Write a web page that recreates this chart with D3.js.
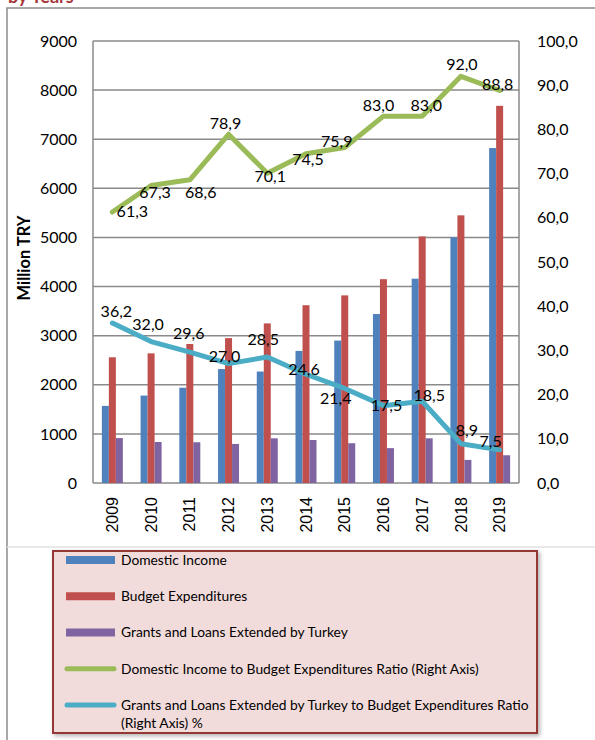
<!DOCTYPE html>
<html>
<head>
<meta charset="utf-8">
<script src="https://cdn.jsdelivr.net/npm/d3@7"></script>
<style>
  body { margin: 0; background: #fff; }
  svg { display: block; font-family: Lato, "Open Sans", sans-serif; }
</style>
</head>
<body>
<script>
'use strict';

// chart values
const years = ["2009", "2010", "2011", "2012", "2013", "2014", "2015", "2016", "2017", "2018", "2019"];
const domesticIncome = [1570, 1780, 1940, 2320, 2270, 2690, 2900, 3440, 4160, 5000, 6820];
const budgetExpenditures = [2560, 2640, 2830, 2950, 3250, 3620, 3820, 4150, 5020, 5450, 7680];
const grantsLoans = [915, 835, 830, 795, 910, 875, 810, 710, 910, 470, 565];
const incomeRatio = [61.3, 67.3, 68.6, 78.9, 70.1, 74.5, 75.9, 83.0, 83.0, 92.0, 88.8];
const grantsRatio = [36.2, 32.0, 29.6, 27.0, 28.5, 24.6, 21.4, 17.5, 18.5, 8.9, 7.5];
const leftTicks = [0, 1000, 2000, 3000, 4000, 5000, 6000, 7000, 8000, 9000];
const rightTicks = [0, 10, 20, 30, 40, 50, 60, 70, 80, 90, 100];
const legendLabels = [
  "Domestic Income",
  "Budget Expenditures",
  "Grants and Loans Extended by Turkey",
  "Domestic Income to Budget Expenditures Ratio (Right Axis)",
  "Grants and Loans Extended by Turkey to Budget Expenditures Ratio|(Right Axis) %"
];

// label nudges (dx, dy) to mimic hand-placed data labels
const incomeLabelShift = [[20, -1], [4, 7], [11, 12], [-3, -11], [3, 3], [2, 6], [-8, -6], [-5, -11], [4, -11], [1, -12], [-2, -6]];
const grantsLabelShift = [[4, -12], [-3, -17], [-1, -19], [-4, -7], [-4, -18], [-2, -5], [-9, 10], [3, 0], [7, -6], [6, -13], [-9, -9]];

const colors = {
  income: "#4F81BD",
  budget: "#C0504D",
  grants: "#8064A2",
  incomeRatio: "#9BBB59",
  grantsRatio: "#4BACC6"
};

let svg = "";
const plot = { left: 93, right: 519, top: 41, bottom: 483 };

window.onload = function() {
  svg = d3.select('body')
    .append('svg')
    .attr('width', 595)
    .attr('height', 740);

  drawFrame();
  let scales = drawAxes();
  drawBars(scales);
  drawLines(scales);
  drawLegend();
};

// outer frame and cut-off title
function drawFrame() {
  svg.append('text')
    .attr('x', 8)
    .attr('y', 3)
    .style('font-size', '18px')
    .style('font-weight', 'bold')
    .attr('fill', '#A5373A')
    .text('by Years');

  svg.append('path')
    .attr('d', 'M7,740 L7,8 L595,8')
    .attr('fill', 'none')
    .attr('stroke', '#8C8C8C')
    .attr('stroke-width', 1.5);

  svg.append('line')
    .attr('x1', 7).attr('x2', 595)
    .attr('y1', 547).attr('y2', 547)
    .attr('stroke', '#E2E2E2')
    .attr('stroke-width', 1.5);
}

// axes, gridlines and tick labels
function drawAxes() {
  let x = d3.scaleBand()
    .domain(years)
    .range([plot.left, plot.right])
    .padding(0);

  let y = d3.scaleLinear()
    .domain([0, 9000])
    .range([plot.bottom, plot.top]);

  let yRight = d3.scaleLinear()
    .domain([0, 100])
    .range([plot.bottom, plot.top]);

  // gridlines
  svg.append('g')
    .selectAll('line')
    .data(leftTicks)
    .enter()
    .append('line')
      .attr('x1', plot.left)
      .attr('x2', plot.right)
      .attr('y1', (d) => y(d))
      .attr('y2', (d) => y(d))
      .attr('stroke', '#8A8A8A')
      .attr('stroke-width', 1.5);

  // plot box sides
  svg.append('line')
    .attr('x1', plot.left).attr('x2', plot.left)
    .attr('y1', plot.top).attr('y2', plot.bottom)
    .attr('stroke', '#8A8A8A').attr('stroke-width', 1.5);
  svg.append('line')
    .attr('x1', plot.right).attr('x2', plot.right)
    .attr('y1', plot.top).attr('y2', plot.bottom)
    .attr('stroke', '#8A8A8A').attr('stroke-width', 1.5);

  // left axis labels
  let leftAxis = d3.axisLeft(y)
    .tickValues(leftTicks)
    .tickSize(0)
    .tickPadding(16)
    .tickFormat(d3.format('d'));
  let gl = svg.append('g')
    .attr('transform', 'translate(' + plot.left + ',0)')
    .call(leftAxis);
  gl.select('.domain').remove();
  gl.selectAll('text')
    .style('font-family', 'Lato, sans-serif')
    .style('font-size', '16px')
    .attr('fill', '#000');

  // right axis labels
  let rightAxis = d3.axisRight(yRight)
    .tickValues(rightTicks)
    .tickSize(0)
    .tickPadding(18)
    .tickFormat((d) => d3.format('.1f')(d).replace('.', ','));
  let gr = svg.append('g')
    .attr('transform', 'translate(' + plot.right + ',0)')
    .call(rightAxis);
  gr.select('.domain').remove();
  gr.selectAll('text')
    .style('font-family', 'Lato, sans-serif')
    .style('font-size', '16px')
    .attr('fill', '#000');

  // year labels, rotated
  let bottomAxis = d3.axisBottom(x).tickSize(0).tickPadding(0);
  let gb = svg.append('g')
    .attr('transform', 'translate(0,' + plot.bottom + ')')
    .call(bottomAxis);
  gb.select('.domain').remove();
  gb.selectAll('text')
    .attr('transform', 'rotate(-90)')
    .attr('x', -14)
    .attr('y', 0)
    .attr('dy', '0.35em')
    .attr('text-anchor', 'end')
    .style('font-family', '"Liberation Sans", Arial, sans-serif')
    .style('font-size', '16px')
    .attr('fill', '#000');

  // axis title
  svg.append('text')
    .attr('transform', 'translate(30, 258)rotate(-90)')
    .attr('text-anchor', 'middle')
    .style('font-size', '16.5px')
    .style('font-weight', 'bold')
    .text('Million TRY');

  return { x: x, y: y, yRight: yRight };
}

// three bars per year
function drawBars(s) {
  let seriesNames = ['income', 'budget', 'grants'];
  let seriesData = [domesticIncome, budgetExpenditures, grantsLoans];
  let groupWidth = 21;
  let xSub = d3.scaleBand()
    .domain(seriesNames)
    .range([0, groupWidth]);
  let offset = (s.x.bandwidth() - groupWidth) / 2;

  seriesNames.forEach(function(name, k) {
    svg.append('g')
      .selectAll('rect')
      .data(seriesData[k])
      .enter()
      .append('rect')
        .attr('x', (d, i) => s.x(years[i]) + offset + xSub(name))
        .attr('y', (d) => s.y(d))
        .attr('width', xSub.bandwidth())
        .attr('height', (d) => s.y(0) - s.y(d))
        .attr('fill', colors[name]);
  });
}

// ratio lines on right axis, with data labels
function drawLines(s) {
  let cx = (i) => s.x(years[i]) + s.x.bandwidth() / 2;
  let line = d3.line()
    .x((d, i) => cx(i))
    .y((d) => s.yRight(d));

  let sets = [
    { values: incomeRatio, color: colors.incomeRatio, shift: incomeLabelShift },
    { values: grantsRatio, color: colors.grantsRatio, shift: grantsLabelShift }
  ];

  sets.forEach(function(set) {
    svg.append('path')
      .datum(set.values)
      .attr('d', line)
      .attr('fill', 'none')
      .attr('stroke', set.color)
      .attr('stroke-width', 5)
      .attr('stroke-linejoin', 'round')
      .attr('stroke-linecap', 'round');
  });

  sets.forEach(function(set) {
    svg.append('g')
      .selectAll('text')
      .data(set.values)
      .enter()
      .append('text')
        .attr('x', (d, i) => cx(i) + set.shift[i][0])
        .attr('y', (d, i) => s.yRight(d) + set.shift[i][1])
        .attr('dy', '0.36em')
        .attr('text-anchor', 'middle')
        .style('font-size', '16px')
        .attr('fill', '#000')
        .text((d) => d3.format('.1f')(d).replace('.', ','));
  });
}

// legend box below chart
function drawLegend() {
  let defs = svg.append('defs');
  let f = defs.append('filter').attr('id', 'shadow')
    .attr('x', '-5%').attr('y', '-5%').attr('width', '110%').attr('height', '115%');
  f.append('feDropShadow')
    .attr('dx', 2).attr('dy', 2)
    .attr('stdDeviation', 2)
    .attr('flood-color', '#000')
    .attr('flood-opacity', 0.3);

  svg.append('rect')
    .attr('x', 53)
    .attr('y', 551)
    .attr('width', 484)
    .attr('height', 182)
    .attr('fill', '#F2DCDB')
    .attr('stroke', '#953735')
    .attr('stroke-width', 2)
    .attr('filter', 'url(#shadow)');

  let rowY = d3.scalePoint()
    .domain(d3.range(legendLabels.length))
    .range([560, 705]);

  let swatchColors = [colors.income, colors.budget, colors.grants, colors.incomeRatio, colors.grantsRatio];

  legendLabels.forEach(function(label, i) {
    let yy = rowY(i);
    if (i < 3) {
      svg.append('rect')
        .attr('x', 66).attr('y', yy - 4)
        .attr('width', 49).attr('height', 8)
        .attr('fill', swatchColors[i]);
    } else {
      svg.append('line')
        .attr('x1', 67).attr('x2', 114)
        .attr('y1', yy).attr('y2', yy)
        .attr('stroke', swatchColors[i])
        .attr('stroke-width', 5)
        .attr('stroke-linecap', 'round');
    }
    let parts = label.split('|');
    let t = svg.append('text')
      .attr('x', 121)
      .attr('y', yy)
      .style('font-size', '13.8px')
      .attr('fill', '#000');
    parts.forEach(function(p, j) {
      t.append('tspan')
        .attr('x', 121)
        .attr('dy', j === 0 ? '0.36em' : '1.3em')
        .text(p);
    });
  });
}
</script>
</body>
</html>
